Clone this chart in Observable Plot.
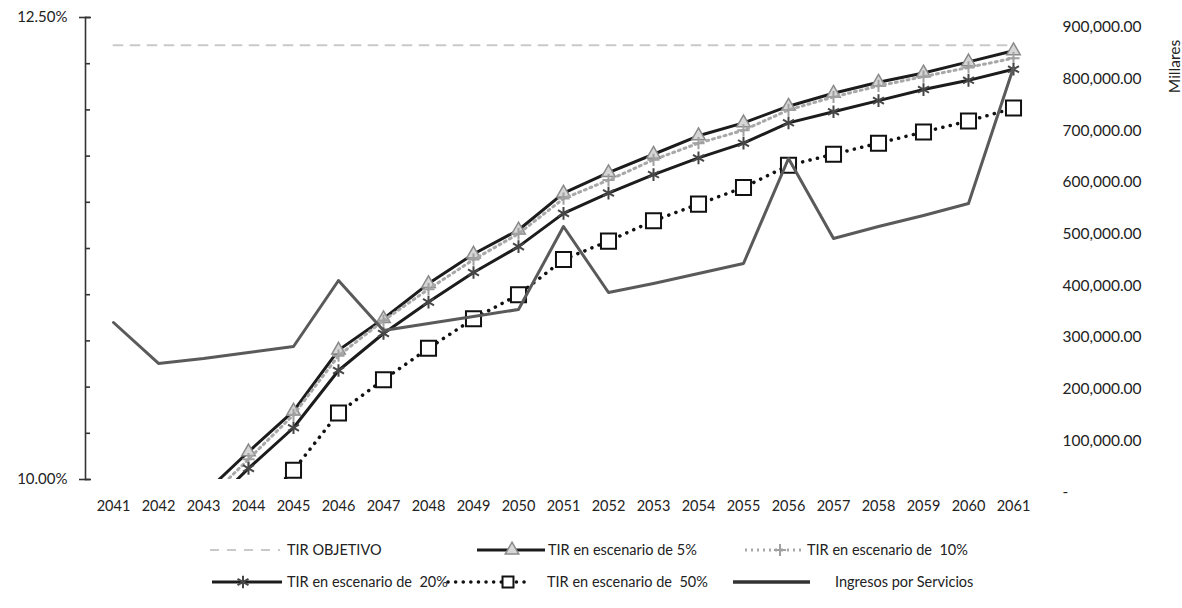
<!DOCTYPE html>
<html><head><meta charset="utf-8">
<script src="https://cdn.jsdelivr.net/npm/d3@7"></script>
<script src="https://cdn.jsdelivr.net/npm/@observablehq/plot@0.6"></script>
<style>
body{margin:0;background:#fff;}
#wrap{position:relative;width:1182px;height:608px;font-family:Lato,"Open Sans",sans-serif;color:#222;overflow:hidden;}
#chart{position:absolute;left:0;top:0;}
#legsvg{position:absolute;left:0;top:0;}
.lt{position:absolute;height:20px;line-height:20px;white-space:pre;font-size:14.5px;color:#222;}
</style></head><body>
<div id="wrap"><div id="chart"></div><svg id="legsvg" width="1182" height="608"></svg><div id="legtext"></div></div>
<script>
// ---- data ----
const years = ["2041","2042","2043","2044","2045","2046","2047","2048","2049","2050","2051","2052","2053","2054","2055","2056","2057","2058","2059","2060","2061"];
const tirObjetivo = [12.35,12.35,12.35,12.35,12.35,12.35,12.35,12.35,12.35,12.35,12.35,12.35,12.35,12.35,12.35,12.35,12.35,12.35,12.35,12.35,12.35];
const tir5  = [null,null,9.92,10.15,10.37,10.70,10.87,11.06,11.22,11.35,11.55,11.66,11.76,11.86,11.93,12.02,12.09,12.15,12.20,12.26,12.32];
const tir10 = [null,null,9.87,10.11,10.35,10.67,10.86,11.03,11.19,11.33,11.52,11.62,11.73,11.82,11.89,12.00,12.07,12.13,12.18,12.23,12.28];
const tir20 = [null,null,9.82,10.06,10.28,10.59,10.79,10.96,11.12,11.26,11.44,11.55,11.65,11.74,11.82,11.93,11.99,12.05,12.11,12.16,12.22];
const tir50 = [null,null,null,9.80,10.05,10.36,10.54,10.71,10.87,11.00,11.19,11.29,11.40,11.49,11.58,11.70,11.76,11.82,11.88,11.94,12.01];
const ingresos = [329000,249700,259300,270900,282600,410300,313500,327100,340600,354200,514800,387100,404500,423800,443200,646400,491600,514800,536100,559300,822500];
const leftTickLabels = [10, 12.5];
const leftMinorTicks = [10,10.25,10.5,10.75,11,11.25,11.5,11.75,12,12.25,12.5];
const rightTicks = [0,100000,200000,300000,400000,500000,600000,700000,800000,900000];
const seriesNames = ["TIR OBJETIVO","TIR en escenario de 5%","TIR en escenario de  10%","TIR en escenario de  20%","TIR en escenario de  50%","Ingresos por Servicios"];
const rightTitle = "Millares";

// secondary axis mapping (right axis values -> left-axis units)
const rA = 9.9297, rB = 2.5162 / 900000;
const toLeft = r => rA + r * rB;
const fromLeft = v => (v - rA) / rB;
const fmtRight = v => { const r = Math.round(v / 1000) * 1000; return r === 0 ? "-" : d3.format(",.2f")(r); };

const rows = years.map((year, i) => ({year, obj: tirObjetivo[i], t5: tir5[i], t10: tir10[i], t20: tir20[i], t50: tir50[i], ing: ingresos[i]}));

const chart = Plot.plot({
  width: 1182, height: 530,
  marginLeft: 85, marginRight: 142, marginTop: 17, marginBottom: 51,
  style: {fontFamily: "Lato, 'Open Sans', sans-serif", fontSize: "14.5px", color: "#222", background: "transparent", overflow: "visible"},
  x: {type: "point", domain: years, padding: 0.5, label: null},
  y: {domain: [10, 12.5], label: null},
  marks: [
    Plot.frame({anchor: "left", stroke: "#333", strokeWidth: 1.6}),
    Plot.axisY({ticks: leftMinorTicks, tickSize: 5, dx: 5, fill: "none", stroke: "#333", strokeWidth: 1.6, label: null}),
    Plot.axisY({ticks: leftTickLabels, tickSize: 12, dx: 6, fill: "none", stroke: "#333", strokeWidth: 1.6, label: null}),
    Plot.axisY({ticks: leftTickLabels, tickSize: 0, tickPadding: 18, tickFormat: d => d.toFixed(2) + "%", fontSize: 15, label: null}),
    Plot.axisY({anchor: "right", ticks: rightTicks.map(toLeft), tickSize: 0, tickPadding: 22, tickFormat: d => fmtRight(fromLeft(d)), fontSize: 15.5, textAnchor: "start", label: null}),
    Plot.axisX({tickSize: 0, tickPadding: 21, fontSize: 14.5, label: null}),
    Plot.text([rightTitle], {frameAnchor: "top-right", dx: 128, dy: 49, rotate: -90, fontSize: 15.5, textAnchor: "middle", fill: "#222"}),
    Plot.line(rows, {x: "year", y: "obj", stroke: "#c9c9c9", strokeWidth: 2, strokeDasharray: "9,8"}),
    Plot.line(rows, {x: "year", y: "t5", stroke: "#1c1c1c", strokeWidth: 3, clip: true}),
    Plot.dot(rows, {x: "year", y: "t5", symbol: "triangle", r: 5, fill: "#d6d6d6", stroke: "#8a8a8a", strokeWidth: 1.5, clip: true}),
    Plot.line(rows, {x: "year", y: "t10", stroke: "#a8a8a8", strokeWidth: 3, strokeDasharray: "2,4", clip: true}),
    Plot.dot(rows, {x: "year", y: "t10", symbol: "plus", r: 4, stroke: "#a0a0a0", strokeWidth: 2, clip: true}),
    Plot.line(rows, {x: "year", y: "t20", stroke: "#1c1c1c", strokeWidth: 3, clip: true}),
    Plot.dot(rows, {x: "year", y: "t20", symbol: "asterisk", r: 6, stroke: "#474747", strokeWidth: 2, clip: true}),
    Plot.line(rows, {x: "year", y: "t50", stroke: "#111", strokeWidth: 3.5, strokeDasharray: "0.1,7.5", strokeLinecap: "round", clip: true}),
    Plot.dot(rows, {x: "year", y: "t50", symbol: "square", r: 8.5, fill: "#fff", stroke: "#111", strokeWidth: 2, clip: true}),
    Plot.line(rows, {x: "year", y: d => toLeft(d.ing), stroke: "#5a5a5a", strokeWidth: 3})
  ]
});
document.getElementById("chart").append(chart);

// ---- legend ----
const svg = d3.select("#legsvg");
const leg = d3.select("#legtext");
function label(txt, x, cy) { leg.append("div").attr("class", "lt").style("left", x + "px").style("top", (cy - 10) + "px").text(txt); }
function seg(x1, x2, cy, stroke, w, dash, cap) {
  svg.append("line").attr("x1", x1).attr("x2", x2).attr("y1", cy).attr("y2", cy)
    .attr("stroke", stroke).attr("stroke-width", w).attr("stroke-dasharray", dash || null).attr("stroke-linecap", cap || "butt");
}
function sym(type, size, x, cy, fill, stroke, sw) {
  svg.append("path").attr("d", d3.symbol(type, size)()).attr("transform", `translate(${x},${cy})`)
    .attr("fill", fill).attr("stroke", stroke).attr("stroke-width", sw);
}
const r1 = 550, r2 = 582;
seg(210, 280, r1, "#c9c9c9", 2, "9,8");
label(seriesNames[0], 287, r1);
seg(477, 545, r1, "#1c1c1c", 3);
sym(d3.symbolTriangle, Math.PI * 25, 512, r1, "#d6d6d6", "#8a8a8a", 1.5);
label(seriesNames[1], 548, r1);
seg(745, 802, r1, "#a8a8a8", 3, "2,4");
sym(d3.symbolPlus, Math.PI * 16, 780, r1, "none", "#a0a0a0", 2);
label(seriesNames[2], 807, r1);
seg(212, 282, r2, "#1c1c1c", 3);
sym(d3.symbolAsterisk, Math.PI * 36, 243, r2, "none", "#474747", 2);
label(seriesNames[3], 287, r2);
seg(448, 525, r2, "#111", 3.5, "0.1,7.5", "round");
sym(d3.symbolSquare, 120, 508, r2, "#fff", "#111", 2);
label(seriesNames[4], 547, r2);
seg(733, 810, r2, "#333", 3.5);
label(seriesNames[5], 835, r2);
</script>
</body></html>
